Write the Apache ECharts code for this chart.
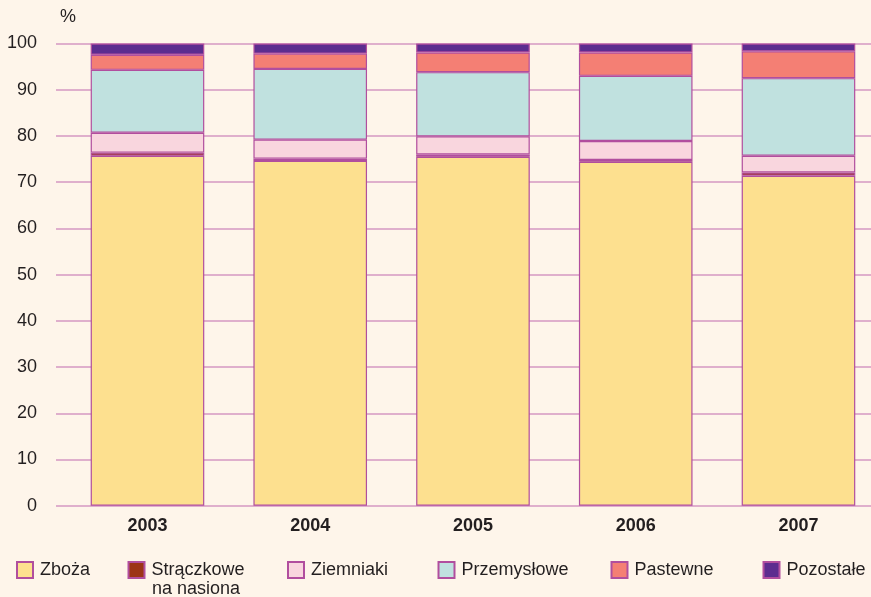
<!DOCTYPE html>
<html><head><meta charset="utf-8">
<script src="https://cdn.jsdelivr.net/npm/echarts@6/dist/echarts.min.js"></script>
<style>html,body{margin:0;padding:0;background:#fef5ea;}#c{width:871px;height:597px;}</style>
</head><body><div id="c"></div>
<script>
const years = ['2003','2004','2005','2006','2007'];
const seriesNames = ['Zboża','Strączkowe na nasiona','Ziemniaki','Przemysłowe','Pastewne','Pozostałe'];
const zboza = [75.7, 74.6, 75.5, 74.4, 71.4];
const straczkowe = [0.7, 0.5, 0.5, 0.4, 0.7];
const ziemniaki = [4.3, 4.1, 3.9, 4.1, 3.6];
const przemyslowe = [13.6, 15.3, 13.9, 14.1, 16.8];
const pastewne = [3.25, 3.3, 4.25, 5.05, 5.8];
const pozostale = [2.45, 2.2, 1.95, 1.95, 1.7];
const yTicks = [0,10,20,30,40,50,60,70,80,90,100];

const colors = ['#fde08f','#9c3416','#f9d6de','#c0e1df','#f47f74','#5c2d8f'];
const values = [zboza, straczkowe, ziemniaki, przemyslowe, pastewne, pozostale];
const font = 'Liberation Sans, Arial, sans-serif';
const gridCol = '#d497c2';
const borderCol = '#b14e9e';

const chart = echarts.init(document.getElementById('c'));
const legendLefts = [16, 127.5, 287, 437.5, 610.5, 762.5];
chart.setOption({
  backgroundColor: '#fef5ea',
  animation: false,
  title: {text: '%', left: 60, top: 8, padding: 0, textStyle: {fontFamily: font, fontSize: 18, fontWeight: 'normal', color: '#231f20'}},
  grid: [
    {left: 56, right: 0, top: 43.5, bottom: 91.3, outerBoundsMode: 'none'},
    {left: 66.1, right: -8.85, top: 43.5, bottom: 91.3, outerBoundsMode: 'none'}
  ],
  xAxis: [
    {type: 'category', gridIndex: 0, data: years, show: false},
    {type: 'category', gridIndex: 1, data: years,
     axisLine: {show: false}, axisTick: {show: false},
     axisLabel: {margin: 11, fontFamily: font, fontSize: 18, fontWeight: 'bold', color: '#231f20'}}
  ],
  yAxis: [
    {type: 'value', gridIndex: 0, min: 0, max: 100, interval: 10,
     axisLine: {show: false}, axisTick: {show: false},
     axisLabel: {margin: 19, fontFamily: font, fontSize: 18, color: '#231f20',
       formatter: v => yTicks.includes(v) ? String(v) : ''},
     splitLine: {lineStyle: {color: gridCol, width: 1.5}}},
    {type: 'value', gridIndex: 1, min: 0, max: 100, interval: 10, show: false, splitLine: {show: false}}
  ],
  legend: seriesNames.map((n, i) => ({
    data: [n], left: legendLefts[i], top: 561, padding: 0, itemWidth: 16, itemHeight: 16, itemGap: 0,
    icon: 'rect', selectedMode: false,
    formatter: name => name === 'Strączkowe na nasiona' ? 'Strączkowe' : name,
    textStyle: {fontFamily: font, fontSize: 18, color: '#231f20', padding: [0,0,0,2]}
  })),
  graphic: [{type: 'text', left: 152, top: 580, style: {text: 'na nasiona', fontFamily: font, fontSize: 18, fill: '#231f20'}}],
  series: seriesNames.map((n, i) => ({
    name: n, type: 'bar', stack: 'all', xAxisIndex: 1, yAxisIndex: 1,
    barWidth: 113.6, data: values[i],
    itemStyle: {color: colors[i], borderColor: borderCol, borderWidth: 1.2}
  }))
});
</script></body></html>
